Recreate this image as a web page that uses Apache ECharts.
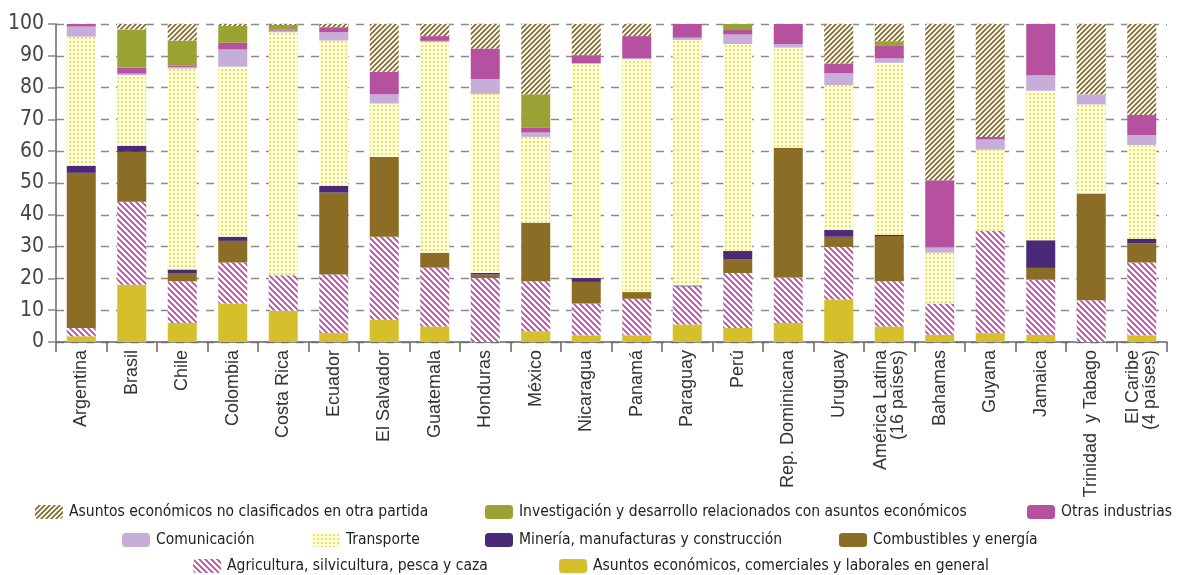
<!DOCTYPE html>
<html>
<head>
<meta charset="utf-8">
<script src="https://cdn.jsdelivr.net/npm/echarts@6/dist/echarts.min.js"></script>
<style>
html,body{margin:0;padding:0;background:#fff;}
#chart{width:1177px;height:575px;}
</style>
</head>
<body>
<div id="chart"></div>
<script>
var categories = ['Argentina','Brasil','Chile','Colombia','Costa Rica','Ecuador','El Salvador','Guatemala','Honduras','México','Nicaragua','Panamá','Paraguay','Perú','Rep. Dominicana','Uruguay','América Latina\n(16 países)','Bahamas','Guyana','Jamaica','Trinidad  y Tabago','El Caribe\n(4 países)'];
var yTicks = [0,10,20,30,40,50,60,70,80,90,100];

var generales     = [1.8,18,6,12.1,9.8,2.8,7,4.9,0,3.4,2.1,2.1,5.5,4.4,6,13.4,4.9,2.3,2.8,2.3,0,2.1];
var agricultura   = [2.6,26.1,13.1,12.9,11.2,18.4,26.1,18.5,20.1,15.7,10,11.5,12,17.3,14.3,16.5,14.2,9.8,32.1,17.3,13.1,22.9];
var combustibles  = [48.8,15.7,2.6,6.8,0,25.8,25.1,4.7,1.1,18.4,6.8,2.1,0,4.2,40.8,3.2,14.2,0,0,3.7,33.6,6];
var mineria       = [2.2,1.9,1.1,1.3,0,2.1,0,0,0.5,0,1.2,0,0.3,2.7,0,2.1,0.4,0,0,8.7,0,1.5];
var transporte    = [40.6,22.2,63.2,53.5,76.4,45.7,16.8,66.3,56.3,27,67.5,73.2,77.2,65.1,31.5,45.6,54.1,16,25.6,47,28,29.4];
var comunicacion  = [3.2,0.5,0.5,5.4,0.5,2.6,2.9,0.3,4.7,1.4,0,0.3,0.7,3,1.1,3.7,1.4,1.6,3.2,4.9,3.2,3.2];
var otras         = [0.8,1.9,0.5,2.1,0.4,1.6,7.1,1.5,9.6,1.6,2.6,7,4.3,1.4,6.3,3.1,3.9,21.2,0.8,16.1,0,6.3];
var investigacion = [0,12,7.8,5.3,1.4,0,0,0,0,10.4,0,0,0,1.9,0,0,1.5,0,0,0,0,0];
var noClasif      = [0,1.7,5.2,0.6,0.3,1,15,3.8,7.7,22.1,9.8,3.8,0,0,0,12.4,5.4,49.1,35.5,0,22.1,28.6];

var names = {
  nc: 'Asuntos económicos no clasificados en otra partida',
  inv: 'Investigación y desarrollo relacionados con asuntos económicos',
  otr: 'Otras industrias',
  com: 'Comunicación',
  tra: 'Transporte',
  min: 'Minería, manufacturas y construcción',
  cmb: 'Combustibles y energía',
  agr: 'Agricultura, silvicultura, pesca y caza',
  gen: 'Asuntos económicos, comerciales y laborales en general'
};

function hatch(color, p, lw, dir) {
  var c = document.createElement('canvas');
  c.width = p; c.height = p;
  var g = c.getContext('2d');
  g.fillStyle = '#ffffff'; g.fillRect(0,0,p,p);
  g.strokeStyle = color; g.lineWidth = lw;
  g.beginPath();
  if (dir === '/') {
    g.moveTo(-1, p+1); g.lineTo(p+1, -1);
    g.moveTo(-1, 1); g.lineTo(1, -1);
    g.moveTo(p-1, p+1); g.lineTo(p+1, p-1);
  } else {
    g.moveTo(-1, -1); g.lineTo(p+1, p+1);
    g.moveTo(p-1, -1); g.lineTo(p+1, 1);
    g.moveTo(-1, p-1); g.lineTo(1, p+1);
  }
  g.stroke();
  return {image: c, repeat: 'repeat'};
}
function dots() {
  var c = document.createElement('canvas');
  c.width = 4; c.height = 4;
  var g = c.getContext('2d');
  g.fillStyle = '#ffffde'; g.fillRect(0,0,4,4);
  g.fillStyle = '#ece15e'; g.fillRect(1,1,2,2);
  return {image: c, repeat: 'repeat'};
}

var styles = {
  gen: '#d5bf2b',
  agr: hatch('#b24fa0', 6, 1.8, '\\'),
  cmb: '#8c6d25',
  min: '#4a2a78',
  tra: dots(),
  com: '#c7aed8',
  otr: '#b5519f',
  inv: '#9aa233',
  nc: hatch('#86692a', 5, 1.7, '/')
};

var order = [['gen',generales],['agr',agricultura],['cmb',combustibles],['min',mineria],['tra',transporte],['com',comunicacion],['otr',otras],['inv',investigacion],['nc',noClasif]];

var series = order.map(function(o){
  return {
    name: names[o[0]],
    type: 'bar',
    stack: 'total',
    barWidth: 29,
    itemStyle: {color: styles[o[0]]},
    data: o[1],
    animation: false
  };
});

var legendPos = [
  ['nc',35,512],['inv',485,512],['otr',1027,512],
  ['com',122,540],['tra',312,540],['min',485,540],['cmb',839,540],
  ['agr',193,566],['gen',559,566]
];
var narrow = '"Liberation Sans Narrow","DejaVu Sans Condensed","Roboto",sans-serif';
var legends = legendPos.map(function(l){
  return {
    data: [names[l[0]]],
    left: l[1],
    top: l[2] - 9,
    padding: 0,
    itemWidth: 28,
    itemHeight: 14,
    itemGap: 0,
    selectedMode: false,
    textStyle: {fontFamily: narrow, fontSize: 15.5, color: '#222', lineHeight: 18, padding: [0,0,0,1]}
  };
});

var chart = echarts.init(document.getElementById('chart'), null, {renderer: 'canvas'});
chart.setOption({
  backgroundColor: '#ffffff',
  animation: false,
  grid: {left: 56, right: 10, top: 24, bottom: 233, containLabel: false},
  legend: legends,
  xAxis: {
    type: 'category',
    data: categories,
    axisLine: {lineStyle: {color: '#666', width: 1.5}},
    axisTick: {show: true, interval: 0, length: 10, lineStyle: {color: '#666', width: 1.5}},
    axisLabel: {
      interval: 0, rotate: 90, margin: 8,
      fontFamily: '"Liberation Sans",Arial,sans-serif', fontSize: 18, color: '#333', lineHeight: 17
    }
  },
  yAxis: {
    type: 'value',
    min: yTicks[0], max: yTicks[yTicks.length-1], interval: 10,
    axisLine: {show: true, lineStyle: {color: '#666', width: 1.5}},
    axisTick: {show: true, length: 8, lineStyle: {color: '#888', width: 1.5}},
    axisLabel: {margin: 12, fontFamily: narrow, fontSize: 21, color: '#444'},
    splitLine: {show: true, lineStyle: {color: '#8a8a8a', width: 1.3, type: [8, 7]}}
  },
  series: series
});
</script>
</body>
</html>
